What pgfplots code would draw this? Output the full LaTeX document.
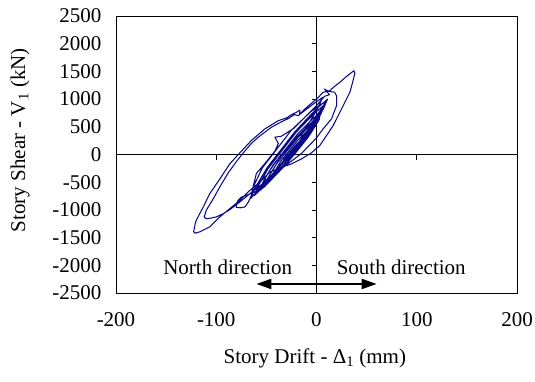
\documentclass[border=0pt]{standalone}
\usepackage{fontspec}
\setmainfont{Liberation Serif}
\usepackage{pgfplots}
\pgfplotsset{compat=1.18}
\usetikzlibrary{arrows.meta}
\definecolor{loopblue}{RGB}{10,10,135}
\begin{document}
\begin{tikzpicture}[font=\fontsize{21}{25}\selectfont]
\useasboundingbox (0,0) rectangle (535pt,381pt);
\begin{axis}[
  at={(116pt,88pt)}, anchor=south west,
  width=401pt, height=277pt, scale only axis,
  xmin=-200, xmax=200, ymin=-2500, ymax=2500,
  xtick={-200,-100,0,100,200},
  ytick={-2500,-2000,-1500,-1000,-500,0,500,1000,1500,2000,2500},
  major tick length=0pt,
  xtick pos=bottom, ytick pos=left,
  /pgf/number format/assume math mode=true,
  /pgf/number format/set thousands separator={},
  tick label style={font=\fontsize{21}{25}\selectfont},
  yticklabel style={xshift=-11pt},
  xticklabel style={yshift=-16pt},
  axis line style={line width=0.8pt},
  xlabel={Story Drift - Δ\textsubscript{1} (mm)},
  ylabel={Story Shear - V\textsubscript{1} (kN)},
  xlabel style={at={(axis description cs:0.496,-0.235)}, anchor=center},
  ylabel style={at={(axis description cs:-0.239,0.552)}, anchor=center},
  clip=false,
]
\draw[line width=0.8pt] (axis cs:0,-2500) -- (axis cs:0,2500);
\draw[line width=0.8pt] (axis cs:-200,0) -- (axis cs:200,0);
\pgfplotsinvokeforeach{-2500,-2000,-1500,-1000,-500,0,500,1000,1500,2000,2500}{
  \draw[line width=0.8pt] (axis cs:0,#1) -- ([xshift=-5pt]axis cs:0,#1);
}
\pgfplotsinvokeforeach{-100,100}{
  \draw[line width=0.8pt] (axis cs:#1,0) -- ([yshift=-5pt]axis cs:#1,0);
}
\addplot[color=loopblue, line width=1.05pt, line join=round, no marks] coordinates {
(-22,0)(-28,-100)(-33.5,-214)(-38,-280)
(-36.5,-214)(-32,-82)(-26,50)(-20,182)(-12.5,314)(-8,380)
(-9.5,314)(-14,182)(-20,50)(-27,-90)(-35,-230)(-41,-340)(-44,-400)
(-41.9,-308)(-35.7,-124)(-27.5,60)(-19.3,244)(-9.1,428)(-3,520)
(-5.1,428)(-11.3,244)(-19.5,60)(-28,-124)(-38,-308)(-46,-430)(-50,-500)
(-47.3,-385)(-39.4,-155)(-29,75)(-18.6,305)(-5.7,535)(2,650)
(-0.7,535)(-8.6,305)(-19,75)(-29.4,-155)(-42.3,-385)(-52,-520)
(-50.8,-406)(-42.4,-178)(-32,50)(-21.6,278)(-9.2,506)(0,620)
(-5.2,506)(-13.6,278)(-24,50)(-34.4,-178)(-46.8,-406)(-56,-620)
(-52.9,-480)(-43.7,-200)(-31.5,80)(-19.3,360)(-4.1,640)(5,780)
(1.9,640)(-7.3,360)(-19.5,80)(-31.7,-200)(-46.9,-480)(-54,-560)
(-48.7,-428)(-39.6,-164)(-28,100)(-16.4,364)(-2.3,628)(4,760)
(2.7,628)(-6.4,364)(-18,100)(-29.6,-164)(-43.7,-428)(-56,-640)(-62,-740)
(-58.5,-576)(-48,-248)(-34,80)(-20,408)(-2.5,736)(8,900)
(4.5,736)(-6,408)(-20,80)(-34,-248)(-51.5,-576)(-60,-700)
(-59.3,-543)(-48.9,-229)(-35.5,85)(-22.1,399)(-5.7,713)(7,870)
(0.3,713)(-10.1,399)(-23.5,85)(-36.9,-229)(-53.3,-543)(-62,-720)(-66,-800)
(-61.8,-620)(-49.9,-260)(-34.5,100)(-19.1,460)(-0.2,820)(11,1000)
(6.8,820)(-5.1,460)(-20.5,100)(-35.9,-260)(-54.8,-620)(-62,-720)(-64,-760)
(-63.2,-588)(-54.1,-244)(-39.5,100)(-24.9,444)(-4.8,788)(9,960)
(4.1,769)(-9.7,386)(-27.5,2)(-45.3,-381)(-60.7,-668)(-70,-740)(-75,-770)(-78,-820)(-80,-900)(-80,-955)
(-76,-962)(-71.5,-947)(-68,-860)(-65,-740)(-63,-560)(-60,-345)(-50,-130)(-41.5,62)(-38,200)(-41.5,313)(-35,330)(-22.9,470)(-10,700)(-0.3,877)(8,1050)(13,1080)
(8,1180)(12,1140)(18,1125)(20,1060)(20,882)(15,643)(6.6,463)(0,300)(-8,150)(-15,20)(-25,-120)(-35,-250)(-46,-420)(-56,-560)(-66,-700)(-76,-850)(-86,-990)(-93,-1067)(-100,-1127)(-106,-1150)(-110,-1160)(-112,-1130)(-110,-1008)(-103,-800)(-96.5,-587)(-88,-330)(-80,-130)(-73,30)(-65,200)(-58,313)(-45,492)(-35,590)(-28,650)(-22,720)(-18,700)(-14,780)(-8,880)(0,1000)(6.6,1123)(13.3,1152)(18,1230)(23.3,1303)(30,1410)(37.3,1512)
(38.3,1470)(36,1300)(33.3,1123)(25,823)(16.6,522)(10,342)(3.3,162)(-5,30)(-15,-80)(-25,-170)(-36,-240)(-46.5,-317)(-56.5,-497)(-66.5,-648)(-76.5,-828)(-86.5,-977)(-96.5,-1127)(-106.5,-1307)(-116.5,-1397)(-121.5,-1420)
(-122.5,-1390)(-121,-1250)(-120,-1188)(-113,-950)(-106.5,-707)(-96,-430)(-86.5,-169)(-78,0)(-65,252)(-51.5,462)(-38,612)(-30,660)(-25,720)(-20,762)(-16.5,804)(-17,720)(-12,790)(-4,900)(2,980)(6,1030)(3,900)(-3,700)(-10,500)(-16,330)
};
\draw[line width=2.2pt, {Triangle[length=15pt,width=10pt]}-{Triangle[length=15pt,width=10pt]}] (axis cs:-60,-2337) -- (axis cs:60,-2337);
\node[anchor=center] at (axis cs:-88.5,-2031) {North direction};
\node[anchor=center] at (axis cs:84.5,-2031) {South direction};
\end{axis}
\end{tikzpicture}
\end{document}
